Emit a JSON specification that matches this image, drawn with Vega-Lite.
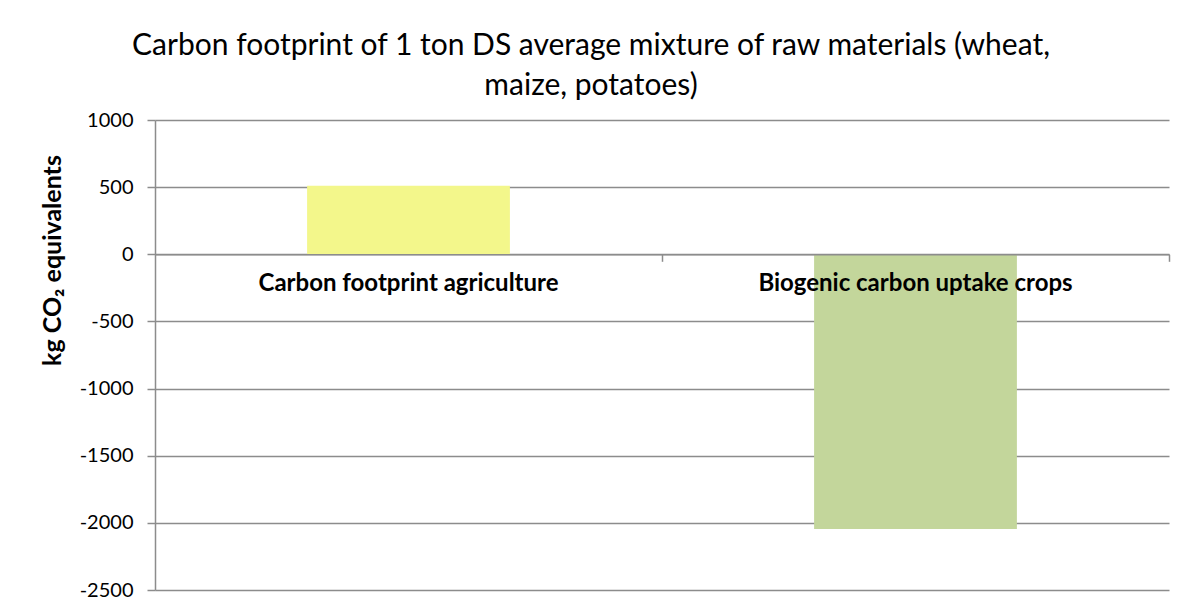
{
  "$schema": "https://vega.github.io/schema/vega-lite/v6.json",
  "autosize": "none",
  "width": 1014,
  "height": 470,
  "padding": {"left": 155, "top": 120, "right": 12, "bottom": 18},
  "background": "white",
  "title": {
    "text": ["Carbon footprint of 1 ton DS average mixture of raw materials (wheat,", "maize, potatoes)"],
    "font": "Lato",
    "fontSize": 30,
    "fontWeight": "normal",
    "color": "#000000",
    "anchor": "middle",
    "frame": "group",
    "dx": -71,
    "dy": 40,
    "baseline": "alphabetic",
    "lineHeight": 40,
    "offset": 25
  },
  "data": {
    "values": [
      {"category": "Carbon footprint agriculture", "value": 510},
      {"category": "Biogenic carbon uptake crops", "value": -2045}
    ]
  },
  "mark": {"type": "bar"},
  "encoding": {
    "x": {
      "field": "category",
      "type": "nominal",
      "sort": null,
      "scale": {"paddingInner": 0.6, "paddingOuter": 0.3},
      "axis": {
        "title": null,
        "zindex": 1,
        "offset": -335.7,
        "labelAngle": 0,
        "labelFont": "Lato",
        "labelFontSize": 24,
        "labelFontWeight": "bold",
        "labelColor": "#000000",
        "labelPadding": 10,
        "labelLimit": 0,
        "bandPosition": 1.75,
        "tickSize": 7,
        "tickColor": "#8c8c8c",
        "tickWidth": 1.5,
        "domainColor": "#8c8c8c",
        "domainWidth": 1.5,
        "grid": false
      }
    },
    "y": {
      "field": "value",
      "type": "quantitative",
      "scale": {"domain": [-2500, 1000], "nice": false, "zero": false},
      "axis": {
        "values": [-2500, -2000, -1500, -1000, -500, 0, 500, 1000],
        "labelExpr": "toString(datum.value)",
        "title": "kg CO₂ equivalents",
        "titleFont": "Lato",
        "titleFontSize": 25,
        "titleFontWeight": "bold",
        "titleColor": "#000000",
        "titleAngle": -90,
        "titleX": -103,
        "titleY": 140,
        "titleAlign": "center",
        "titleBaseline": "middle",
        "labelFont": "Lato",
        "labelFontSize": 20,
        "labelColor": "#000000",
        "labelPadding": 14,
        "tickSize": 8,
        "tickColor": "#8c8c8c",
        "tickWidth": 1.5,
        "domainColor": "#8c8c8c",
        "domainWidth": 1.5,
        "grid": true,
        "gridColor": "#8c8c8c",
        "gridWidth": 1.5
      }
    },
    "color": {
      "field": "category",
      "type": "nominal",
      "sort": null,
      "scale": {"range": ["#F3F78B", "#C3D69B"]},
      "legend": null
    }
  },
  "config": {
    "view": {"stroke": null},
    "axis": {"labelFlush": false}
  }
}
